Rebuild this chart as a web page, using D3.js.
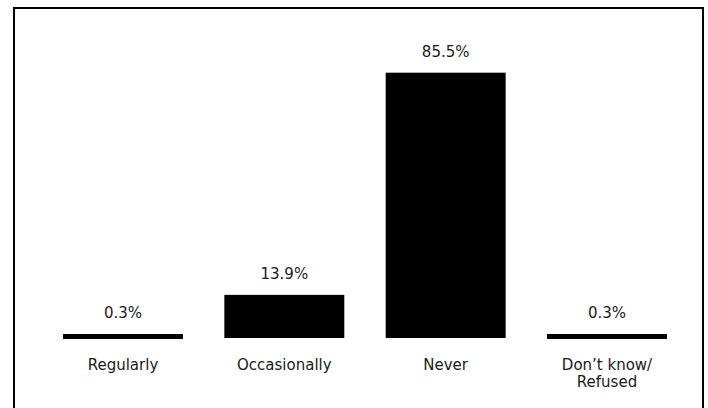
<!DOCTYPE html>
<html>
<head>
<meta charset="utf-8">
<script src="https://cdn.jsdelivr.net/npm/d3@7"></script>
<style>
    html, body { margin: 0; padding: 0; background: #fff; }
    svg { display: block; }
    text { font-family: "DejaVu Sans", Verdana, sans-serif; font-size: 15px; fill: #1a1a1a; }
</style>
</head>
<body>
<svg id="svg" width="708" height="408"></svg>
<script>
// chart data
let categories = ['Regularly', 'Occasionally', 'Never', "Don\u2019t know/\nRefused"];
let values = [0.3, 13.9, 85.5, 0.3];
let valueLabels = ['0.3%', '13.9%', '85.5%', '0.3%'];

let svg = d3.select('#svg');

// frame, open at the bottom edge of the picture
svg.append('rect')
    .attr('x', 14)
    .attr('y', 8)
    .attr('width', 689)
    .attr('height', 420)
    .attr('fill', 'none')
    .attr('stroke', '#000')
    .attr('stroke-width', 2);

let x = d3.scaleBand()
    .domain(categories)
    .range([63, 667])
    .paddingInner(0.2565)
    .paddingOuter(0);

let y = d3.scaleLinear()
    .domain([0, 100])
    .range([338, 338 - 310.3]);

let minBar = 4; // tiny values still show as a thick line

let g = svg.append('g');

g.selectAll('rect.bar')
    .data(values)
    .enter()
    .append('rect')
    .attr('class', 'bar')
    .attr('x', (d, i) => x(categories[i]))
    .attr('width', x.bandwidth())
    .attr('y', d => Math.min(y(d), y(0) - minBar))
    .attr('height', d => Math.max(y(0) - y(d), minBar) + (d < 1 ? 1 : 0))
    .attr('fill', '#000');

g.selectAll('text.value')
    .data(values)
    .enter()
    .append('text')
    .attr('class', 'value')
    .attr('x', (d, i) => x(categories[i]) + x.bandwidth() / 2)
    .attr('y', d => Math.min(y(d), y(0) - minBar) - 16)
    .attr('text-anchor', 'middle')
    .text((d, i) => valueLabels[i]);

let labels = g.selectAll('text.cat')
    .data(categories)
    .enter()
    .append('text')
    .attr('class', 'cat')
    .attr('text-anchor', 'middle')
    .attr('x', d => x(d) + x.bandwidth() / 2)
    .attr('y', 370);

labels.selectAll('tspan')
    .data(d => d.split('\n').map(line => ({ line, cx: x(d) + x.bandwidth() / 2 })))
    .enter()
    .append('tspan')
    .attr('x', d => d.cx)
    .attr('dy', (d, i) => i === 0 ? 0 : 17)
    .text(d => d.line);
</script>
</body>
</html>
